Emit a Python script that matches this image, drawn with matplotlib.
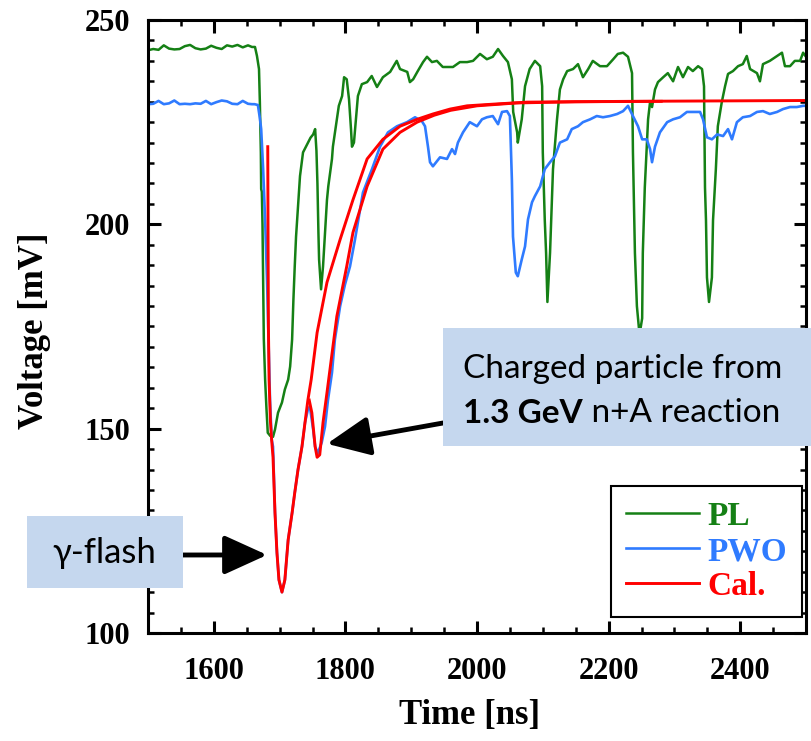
import matplotlib
matplotlib.use("Agg")
import matplotlib.pyplot as plt
from matplotlib.patches import Rectangle
from matplotlib.ticker import MultipleLocator

# PL scintillator trace (time in ns, voltage in mV)
pl_t = [1500, 1508, 1516, 1524, 1532, 1540, 1548, 1556, 1564, 1572, 1580, 1588, 1596, 1604, 1612,
        1620, 1628, 1636, 1644, 1652, 1658, 1662.6, 1665.6, 1668.7, 1670, 1671.5, 1672, 1673, 1674,
        1675, 1676, 1678, 1680, 1682, 1686, 1690, 1693, 1697.6, 1703.6, 1708, 1713, 1716, 1719, 1721,
        1723, 1725, 1731, 1735.6, 1740, 1743, 1747, 1751, 1754, 1756, 1757.5, 1759, 1760, 1763, 1766,
        1769, 1772, 1774, 1779.6, 1781, 1787, 1790, 1795, 1798, 1802, 1805.5, 1808.5, 1810, 1813, 1816,
        1819, 1825, 1833, 1840, 1848, 1857, 1868, 1878, 1883, 1894, 1898, 1903, 1910, 1918, 1924,
        1931.6, 1939, 1948, 1963.5, 1974, 1985, 1994, 2004.6, 2015, 2024, 2032, 2039.5, 2047, 2053,
        2055, 2061, 2062, 2068, 2073, 2080, 2088, 2096, 2099, 2100, 2103, 2105, 2107, 2111, 2115.5,
        2121.6, 2126, 2131, 2137, 2146, 2153.5, 2161, 2169, 2176, 2187, 2197.5, 2207, 2214, 2222,
        2229.5, 2235.6, 2237, 2240, 2243, 2247, 2251, 2252, 2255, 2260, 2263, 2266, 2270.5, 2275, 2283,
        2290, 2298, 2305.5, 2313, 2320.7, 2328, 2336, 2342, 2345, 2346.5, 2348, 2349.5, 2352.6, 2357,
        2358.7, 2363, 2366, 2372, 2377, 2381.5, 2389, 2396.7, 2404, 2410, 2415, 2425.5, 2430, 2434.6,
        2445, 2456, 2463.5, 2468, 2475.7, 2483, 2491, 2495.6, 2500]
pl_v = [242.6, 242.9, 242.7, 243.8, 243.0, 242.8, 242.9, 243.6, 243.9, 243.1, 242.8, 243.0, 243.7,
        243.2, 242.9, 243.8, 243.5, 243.9, 243.3, 243.8, 243.4, 243.4, 241.2, 238.0, 229.9, 217.6,
        208.6, 208.0, 200.0, 185.0, 172.0, 162.0, 155.0, 149.0, 148.2, 148.0, 149.8, 153.9, 156.4,
        159.6, 162.0, 165.2, 171.8, 181.6, 189.7, 197.0, 211.8, 217.6, 219.0, 220.0, 221.2, 222.0,
        223.3, 218.0, 210.0, 198.0, 191.4, 184.1, 189.7, 198.0, 206.0, 209.3, 216.0, 219.0, 225.7,
        229.0, 231.4, 236.0, 235.5, 230.6, 223.3, 219.0, 220.0, 225.7, 231.4, 234.3, 234.8, 236.3,
        233.6, 236.0, 237.3, 240.0, 238.0, 237.3, 234.8, 235.5, 237.5, 239.7, 241.0, 239.7, 240.0,
        238.5, 238.5, 239.7, 239.7, 240.0, 241.7, 240.4, 241.0, 242.9, 241.2, 239.7, 235.5, 227.5,
        222.5, 220.0, 225.7, 233.8, 238.0, 240.0, 238.7, 233.8, 217.6, 201.0, 193.0, 181.0, 193.0,
        213.5, 225.7, 233.0, 235.5, 237.5, 238.0, 239.2, 236.0, 238.0, 240.0, 238.7, 238.7, 240.4,
        241.7, 242.0, 241.0, 237.0, 217.6, 193.0, 180.0, 173.0, 177.0, 193.0, 209.0, 225.7, 229.9,
        228.7, 233.0, 234.8, 236.0, 237.0, 235.0, 238.5, 236.0, 238.5, 237.5, 238.7, 238.0, 233.8,
        209.0, 201.0, 187.0, 181.0, 187.0, 201.0, 213.5, 224.0, 229.9, 233.8, 236.8, 237.5, 238.7,
        239.2, 241.2, 238.0, 237.0, 235.0, 239.2, 240.0, 241.2, 242.0, 238.7, 238.7, 240.0, 240.0,
        242.0, 241.0]

# PWO crystal trace
pwo_t = [1500, 1508, 1516, 1524, 1532, 1540, 1548, 1556, 1564, 1572, 1580, 1588, 1596, 1604, 1612,
         1620, 1628, 1636, 1644, 1652, 1658, 1662, 1667, 1670, 1672, 1675, 1678, 1681, 1685.4, 1688,
         1690, 1693, 1696, 1699, 1703.6, 1708, 1713, 1719, 1723, 1728, 1734, 1738.6, 1743, 1746, 1751,
         1754, 1758, 1764, 1769, 1773.5, 1779.6, 1784, 1792, 1799.4, 1807, 1814.6, 1826.7, 1840.4,
         1852.6, 1864.7, 1878.4, 1893.6, 1905.8, 1916.4, 1921, 1925.5, 1928.6, 1933, 1943.8, 1954.4,
         1962, 1966.6, 1971, 1978.7, 1989, 2000, 2007.6, 2015, 2024, 2032, 2038, 2045.6, 2050, 2053,
         2054.7, 2059, 2062, 2068, 2073, 2077.5, 2083.6, 2088, 2096, 2103, 2111, 2118.5, 2126, 2137,
         2144, 2153.5, 2161, 2172, 2182, 2191.5, 2202, 2213, 2222, 2229.5, 2237, 2244.7, 2251, 2258,
         2263, 2266, 2270.5, 2278, 2289, 2298, 2308.5, 2319, 2328, 2339, 2343.5, 2349.5, 2357, 2365,
         2374, 2381.5, 2387.5, 2395, 2404, 2415, 2425.5, 2434.6, 2445, 2456, 2465, 2475.7, 2486,
         2495.6, 2500]
pwo_v = [229.4, 229.5, 230.2, 229.4, 229.6, 230.3, 229.4, 229.5, 229.4, 229.6, 229.5, 230.2, 229.4,
         229.9, 230.3, 230.1, 229.5, 229.4, 230.2, 229.5, 229.4, 229.4, 229.2, 226.0, 223.3, 213.5,
         201.0, 185.8, 157.0, 147.3, 145.6, 129.4, 119.6, 113.0, 110.0, 113.0, 122.8, 129.4, 134.3,
         140.0, 145.6, 151.5, 154.7, 155.4, 149.8, 145.6, 144.0, 146.6, 150.5, 157.0, 163.7, 171.8,
         180.0, 185.3, 189.7, 196.3, 207.8, 213.5, 219.0, 222.5, 224.0, 225.0, 226.2, 225.2, 224.0,
         219.0, 215.2, 214.2, 216.4, 216.0, 218.4, 217.2, 220.0, 222.5, 225.0, 224.0, 225.7, 226.2,
         226.5, 224.5, 227.5, 227.7, 226.5, 211.0, 197.0, 188.2, 187.3, 191.4, 194.6, 201.2, 205.4,
         206.9, 209.3, 213.5, 215.2, 216.7, 220.0, 220.8, 223.3, 224.0, 225.0, 225.7, 226.5, 226.2,
         226.5, 227.0, 227.7, 229.0, 226.5, 224.0, 220.8, 220.8, 218.4, 215.2, 219.0, 222.5, 225.0,
         225.7, 226.2, 227.5, 227.5, 227.5, 225.7, 221.3, 220.8, 222.0, 221.6, 223.3, 220.8, 225.0,
         226.2, 226.5, 227.5, 227.7, 227.0, 227.5, 228.2, 228.7, 228.7, 229.0, 229.0]

# calculated response: gamma-flash pulse and the charged-particle pulse
cal1_t = [1682, 1682.5, 1683, 1684, 1686, 1688, 1690, 1693, 1696, 1699, 1703.6, 1708, 1713, 1719,
          1723, 1728, 1734, 1738.6, 1743, 1748, 1757, 1772, 1792, 1811.5, 1833, 1857, 1883, 1909,
          1933, 1959, 1985, 2024, 2076, 2150, 2237, 2500]
cal1_v = [219.0, 195.0, 175.0, 162.0, 152.0, 147.0, 143.0, 129.4, 119.6, 113.0, 110.0, 113.0, 122.8,
          129.4, 134.3, 140.0, 145.6, 151.5, 157.0, 162.0, 173.5, 185.8, 196.3, 206.0, 216.0, 220.8,
          224.0, 225.7, 227.0, 228.2, 229.0, 229.4, 229.9, 230.0, 230.1, 230.3]
cal2_t = [1745, 1749, 1754, 1757, 1761, 1766, 1772, 1787, 1802, 1811.5, 1833, 1857, 1883, 1909, 1935,
          1960, 2000, 2060, 2150, 2280]
cal2_v = [157.0, 153.9, 145.6, 143.0, 143.6, 151.5, 158.8, 177.5, 189.7, 198.0, 209.3, 218.4, 222.5,
          225.0, 226.7, 227.9, 229.0, 229.7, 230.0, 230.1]

GREEN = "#158015"
BLUE = "#2f7bff"
RED = "#ff0000"
BOX = "#c5d7ee"
W, H = 811, 741

plt.rcParams["font.family"] = "Liberation Serif"
plt.rcParams["font.weight"] = "bold"

fig = plt.figure(figsize=(W / 100, H / 100), dpi=100)
ax = fig.add_axes([148 / W, 1 - 633 / H, 658 / W, 613 / H])

ax.plot(pl_t, pl_v, color=GREEN, lw=1.8, label="PL")
ax.plot(pwo_t, pwo_v, color=BLUE, lw=1.9, label="PWO")
ax.plot(cal1_t, cal1_v, color=RED, lw=2.1, label="Cal.")
ax.plot(cal2_t, cal2_v, color=RED, lw=2.1)

ax.set_xlim(1500, 2500)
ax.set_ylim(100, 250)
ax.xaxis.set_major_locator(MultipleLocator(200))
ax.xaxis.set_minor_locator(MultipleLocator(50))
ax.yaxis.set_major_locator(MultipleLocator(50))
ax.yaxis.set_minor_locator(MultipleLocator(5))
ax.tick_params(which="both", direction="in", top=True, right=True, labelsize=22)
ax.tick_params(which="major", length=9, width=2.2)
ax.tick_params(which="minor", length=4.5, width=1.8)
ax.tick_params(axis="x", pad=17)
ax.tick_params(axis="y", pad=13)
ax.set_xticks([1600, 1800, 2000, 2200, 2400])
for s in ax.spines.values():
    s.set_linewidth(2.2)

ax.set_xlabel("Time [ns]", fontsize=25, fontweight="bold")
ax.set_ylabel("Voltage [mV]", fontsize=25, fontweight="bold")
ax.xaxis.set_label_coords(0.489, -0.108)
ax.yaxis.set_label_coords(-0.148, 0.493)

leg = ax.legend(loc="lower right", bbox_to_anchor=(0.994, 0.026), borderaxespad=0,
                fancybox=False, edgecolor="black", framealpha=1, labelcolor="linecolor",
                prop={"family": "Liberation Serif", "weight": "bold", "size": 24},
                handlelength=2.2, handletextpad=0.25, labelspacing=0.12, borderpad=0.45)
leg.get_frame().set_linewidth(1.5)


def fp(x, y):
    return (x / W, 1 - y / H)


def box(x0, y0, x1, y1):
    r = Rectangle(fp(x0, y1), (x1 - x0) / W, (y1 - y0) / H, transform=fig.transFigure,
                  facecolor=BOX, edgecolor="none", zorder=5)
    fig.add_artist(r)


sans = ["Lato", "DejaVu Sans"]
arrow = dict(arrowstyle="-|>,head_length=1.1,head_width=0.5", lw=3.5,
             color="black", mutation_scale=24, shrinkA=0, shrinkB=0)

# annotation for the charged particle
box(443, 328, 811, 446)
fig.text(*fp(463, 369), "Charged particle from", ha="left", va="center",
         family=sans, weight="normal", size=24, zorder=6)
t_bold = fig.text(*fp(463, 413), "1.3 GeV", ha="left", va="center",
                  family=sans, weight="bold", size=24, zorder=6)
t_rest = fig.text(0, 0, " n+A reaction", ha="left", va="bottom", family=sans,
                  weight="normal", size=24, zorder=6)
ax.annotate("", xy=(1772, 146.3), xycoords="data",
            xytext=fp(443, 423), textcoords="figure fraction",
            arrowprops=arrow, zorder=7, annotation_clip=False)

# annotation for the gamma flash
box(27, 516, 183, 588)
fig.text(*fp(104, 553), "γ-flash", ha="center", va="center",
         family=sans, weight="normal", size=25, zorder=6)
ax.annotate("", xy=(1681, 119.1), xycoords="data",
            xytext=fp(183, 555), textcoords="figure fraction",
            arrowprops=arrow, zorder=7, annotation_clip=False)

fig.canvas.draw()
# the regular part of the second line follows the bold part
bb = t_bold.get_window_extent()
t_rest.set_transform(matplotlib.transforms.IdentityTransform())
t_rest.set_position((bb.x1, bb.y0))

fig.savefig("out.png", dpi=100)
